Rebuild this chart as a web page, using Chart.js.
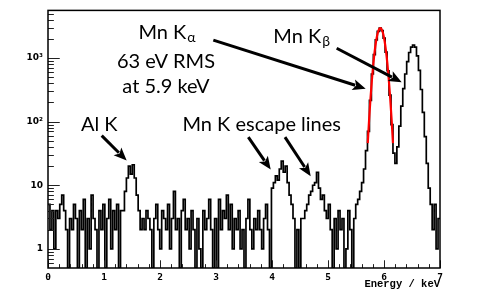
<!DOCTYPE html>
<html><head><meta charset="utf-8">
<script src="https://cdn.jsdelivr.net/npm/chart.js@4.4.1/dist/chart.umd.min.js"></script>
<style>html,body{margin:0;padding:0;background:#fff;overflow:hidden}#wrap{width:490px;height:302px}</style>
</head><body><div id="wrap"><canvas id="c" width="490" height="302"></canvas></div>
<script>
// ---- data ----
const binWidth = 0.035; // keV, 200 bins from 0 to 7 keV
const counts = [
  5, 2, 4, 1, 4, 3, 5, 7, 4, 2,
  0, 3, 2, 5, 3, 0, 4, 2, 6, 0,
  3, 1, 7, 3, 2, 0, 4, 2, 5, 0,
  3, 6, 1, 4, 2, 5, 0, 4, 4, 8,
  13, 20, 15, 21, 13, 7, 4, 2, 3, 2,
  4, 3, 2, 0, 3, 5, 2, 1, 4, 3,
  2, 5, 1, 3, 8, 2, 3, 0, 4, 6,
  2, 3, 1, 4, 2, 0, 3, 1, 0, 4,
  2, 3, 6, 2, 0, 3, 0, 6, 2, 4,
  3, 7, 2, 5, 1, 3, 2, 4, 1, 2,
  0, 3, 6, 2, 1, 3, 2, 4, 2, 1,
  3, 5, 2, 0, 9, 11, 14, 12, 18, 24,
  16, 20, 11, 7, 5, 3, 0, 2, 0, 3,
  3, 4, 5, 7, 8, 10, 11, 16, 9, 6,
  7, 4, 3, 5, 2, 0, 3, 1, 4, 2,
  3, 0, 1, 4, 2, 0, 3, 5, 6, 8,
  11, 18, 35, 70, 215, 560, 1130, 1930, 2620, 2950,
  2700, 2050, 1240, 630, 260, 90, 32, 22, 40, 85,
  175, 330, 560, 880, 1220, 1480, 1600, 1480, 1080, 640,
  320, 140, 58, 22, 9, 5, 2, 5, 1, 3
];
// Gaussian fit of Mn K-alpha (red curve)
const fitEnergy = [5.71, 5.735, 5.76, 5.785, 5.81, 5.835, 5.86, 5.885, 5.91, 5.935,
                   5.96, 5.985, 6.01, 6.035, 6.06, 6.085, 6.11, 6.135, 6.16];
const fitCounts = [46, 111, 239, 466, 820, 1300, 1865, 2411, 2812, 2960,
                   2812, 2411, 1865, 1300, 820, 466, 239, 111, 46];
const xTickValues = [0, 1, 2, 3, 4, 5, 6, 7];
const xTickLabels = ['0', '1', '2', '3', '4', '5', '6', '7'];
const yTickValues = [1, 10, 100, 1000];
const yTickLabels = ['1', '10', '10\u00B2', '10\u00B3'];
const yMinorTicks = [0.6, 0.7, 0.8, 0.9, 2, 3, 4, 5, 6, 7, 8, 9, 20, 30, 40, 50, 60, 70, 80, 90,
                     200, 300, 400, 500, 600, 700, 800, 900, 2000, 3000, 4000, 5000];
const xMinorStep = 0.2;
const xTitle = 'Energy / keV';
const yMin = 0.5, yMax = 5600, xMin = 0, xMax = 7;
// annotations in data coordinates (keV, counts)
const labels = [
  { text: 'Mn K', sub: '\u03B1', x: 2.125, y: 2018 },
  { text: '63 eV RMS', x: 2.107, y: 703 },
  { text: 'at 5.9 keV', x: 2.107, y: 286 },
  { text: 'Mn K', sub: '\u03B2', x: 4.53, y: 1694 },
  { text: 'Al K', x: 0.914, y: 71.7 },
  { text: 'Mn K escape lines', x: 3.816, y: 71.7 }
];
const arrows = [
  { x1: 0.959, y1: 60.1, x2: 1.405, y2: 24.5 },
  { x1: 3.577, y1: 56.9, x2: 3.977, y2: 17.6 },
  { x1: 4.232, y1: 56.9, x2: 4.691, y2: 13.9 },
  { x1: 2.952, y1: 1910, x2: 5.673, y2: 330 },
  { x1: 5.155, y1: 1422, x2: 6.316, y2: 416 }
];

// ---- build library tables ----
const histPoints = counts.map((c, i) => ({ x: i * binWidth, y: c > 0 ? c : yMin }));
histPoints.push({ x: counts.length * binWidth, y: counts[counts.length - 1] > 0 ? counts[counts.length - 1] : yMin });
const fitPoints = fitEnergy.map((e, i) => ({ x: e, y: fitCounts[i] }));

const ANN_FONT = 'Lato';
const decor = {
  id: 'decor',
  afterDatasetsDraw(chart) {
    const { ctx, chartArea: a, scales: { x, y } } = chart;
    ctx.save();
    // ticks inside the frame
    ctx.strokeStyle = '#222'; ctx.lineWidth = 1;
    ctx.beginPath();
    const yl = 0.03 * (a.right - a.left), xl = 0.03 * (a.bottom - a.top);
    yTickValues.forEach(v => { const p = Math.round(y.getPixelForValue(v)) + 0.5; ctx.moveTo(a.left, p); ctx.lineTo(a.left + yl, p); });
    yMinorTicks.forEach(v => { const p = Math.round(y.getPixelForValue(v)) + 0.5; ctx.moveTo(a.left, p); ctx.lineTo(a.left + yl / 2, p); });
    xTickValues.forEach(v => { const p = Math.round(x.getPixelForValue(v)) + 0.5; ctx.moveTo(p, a.bottom); ctx.lineTo(p, a.bottom - xl); });
    for (let v = xMin + xMinorStep; v < xMax - 1e-9; v += xMinorStep) {
      if (Math.abs(v - Math.round(v)) < 1e-6) continue;
      const p = Math.round(x.getPixelForValue(v)) + 0.5; ctx.moveTo(p, a.bottom); ctx.lineTo(p, a.bottom - xl / 2);
    }
    ctx.stroke();
    // frame
    ctx.strokeStyle = '#000'; ctx.lineWidth = 1.5;
    ctx.strokeRect(a.left, a.top, a.right - a.left, a.bottom - a.top);
    // axis title
    ctx.fillStyle = '#000';
    ctx.font = 'bold 10.5px "Liberation Mono"';
    ctx.textAlign = 'right'; ctx.textBaseline = 'alphabetic';
    ctx.fillText(xTitle, a.right, a.bottom + 19);
    // annotation text
    labels.forEach(l => {
      const px = x.getPixelForValue(l.x), py = y.getPixelForValue(l.y);
      ctx.font = '20px "' + ANN_FONT + '"';
      const w1 = ctx.measureText(l.text).width;
      let w2 = 0;
      if (l.sub) { ctx.font = '14px "' + ANN_FONT + '"'; w2 = ctx.measureText(l.sub).width + 1; }
      const x0 = px - (w1 + w2) / 2;
      ctx.textAlign = 'left';
      ctx.font = '20px "' + ANN_FONT + '"';
      ctx.fillText(l.text, x0, py);
      if (l.sub) { ctx.font = '14px "' + ANN_FONT + '"'; ctx.fillText(l.sub, x0 + w1 + 1, py + 3); }
    });
    // arrows
    arrows.forEach(r => {
      const x1 = x.getPixelForValue(r.x1), y1 = y.getPixelForValue(r.y1);
      const x2 = x.getPixelForValue(r.x2), y2 = y.getPixelForValue(r.y2);
      const ang = Math.atan2(y2 - y1, x2 - x1), L = 13, W = 5.5;
      const bx = x2 - L * Math.cos(ang), by = y2 - L * Math.sin(ang);
      ctx.strokeStyle = '#000'; ctx.lineWidth = 3; ctx.lineCap = 'butt';
      ctx.beginPath(); ctx.moveTo(x1, y1); ctx.lineTo(bx + 2 * Math.cos(ang), by + 2 * Math.sin(ang)); ctx.stroke();
      ctx.beginPath();
      ctx.moveTo(x2, y2);
      ctx.lineTo(bx + W * Math.sin(ang), by - W * Math.cos(ang));
      ctx.lineTo(bx + 3 * Math.cos(ang), by + 3 * Math.sin(ang));
      ctx.lineTo(bx - W * Math.sin(ang), by + W * Math.cos(ang));
      ctx.closePath(); ctx.fill();
    });
    ctx.restore();
  }
};

new Chart(document.getElementById('c'), {
  type: 'line',
  data: {
    datasets: [
      { data: fitPoints, borderColor: '#ff0000', borderWidth: 2.2, pointRadius: 0, cubicInterpolationMode: 'monotone', fill: false },
      { data: histPoints, borderColor: '#000000', borderWidth: 1.7, pointRadius: 0, stepped: true, fill: false }
    ]
  },
  options: {
    responsive: false, animation: false, devicePixelRatio: 1,
    layout: { padding: { top: 3, right: 50, left: 0, bottom: 0 } },
    plugins: { legend: { display: false }, tooltip: { enabled: false } },
    scales: {
      x: {
        type: 'linear', min: xMin, max: xMax,
        grid: { display: false, drawTicks: false }, border: { display: false },
        afterBuildTicks: s => { s.ticks = xTickValues.map(v => ({ value: v })); },
        afterFit: s => { s.height = 34; },
        ticks: {
          autoSkip: false, maxRotation: 0, padding: 4, color: '#000',
          font: { family: 'DejaVu Sans Mono', weight: 'bold', size: 9.5 },
          callback: (v, i) => xTickLabels[i]
        }
      },
      y: {
        type: 'logarithmic', min: yMin, max: yMax,
        grid: { display: false, drawTicks: false }, border: { display: false },
        afterBuildTicks: s => { s.ticks = yTickValues.map(v => ({ value: v, major: true })); },
        afterFit: s => { s.width = 48; },
        ticks: {
          autoSkip: false, padding: 5, color: '#000',
          font: { family: 'DejaVu Sans', weight: 'bold', size: 9 },
          callback: (v, i) => yTickLabels[i]
        }
      }
    }
  },
  plugins: [decor]
});
</script>
</body></html>
